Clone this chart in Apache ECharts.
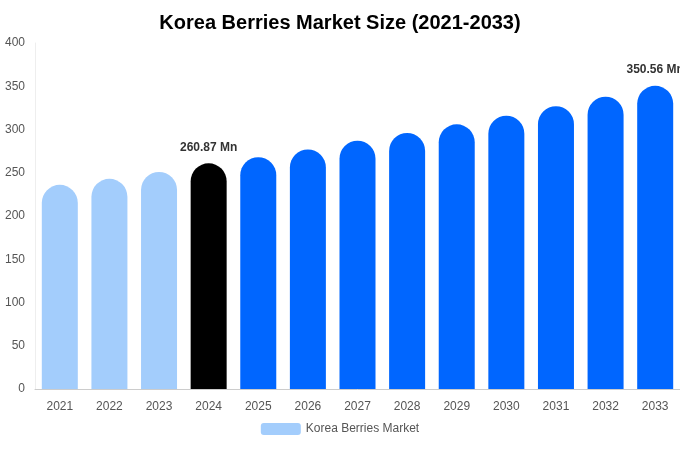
<!DOCTYPE html>
<html>
<head>
<meta charset="UTF-8">
<script src="https://cdn.jsdelivr.net/npm/echarts@6/dist/echarts.min.js"></script>
<style>
  *{margin:0;padding:0;}
  #main{width:680px;height:450px;}
</style>
</head>
<body>
<div id="main"></div>
<script>
var years = ['2021','2022','2023','2024','2025','2026','2027','2028','2029','2030','2031','2032','2033'];
var values = [236, 243, 251, 260.87, 268, 277, 287, 296, 306, 316, 327, 338, 350.56];
var yTicks = [0, 50, 100, 150, 200, 250, 300, 350, 400];

function barColor(i) {
    if (i < 3) return '#a3cdfc';
    if (i == 3) return '#000000';
    return '#0066ff';
}

var data = values.map(function (v, i) {
    var item = { value: v, itemStyle: { color: barColor(i) } };
    if (i == 3 || i == values.length - 1) {
        item.label = {
            show: true, position: 'top', distance: 10,
            formatter: v.toFixed(2) + ' Mn',
            fontWeight: 'bold', fontSize: 12, color: '#333'
        };
    }
    return item;
});

var myChart = echarts.init(document.getElementById('main'));
myChart.setOption({
    animation: false,
    title: {
        text: 'Korea Berries Market Size (2021-2033)',
        left: 'center', top: 8,
        textStyle: { fontSize: 20, fontWeight: 'bold', color: '#000', fontFamily: 'Liberation Sans' }
    },
    legend: {
        bottom: 10, itemWidth: 40, itemHeight: 12,
        data: [{ name: 'Korea Berries Market', itemStyle: { color: '#a3cdfc' } }],
        textStyle: { color: '#555', fontSize: 12 }
    },
    grid: { left: 35, right: 0, top: 43, bottom: 61, containLabel: false },
    xAxis: {
        type: 'category', data: years,
        axisTick: { show: false },
        axisLine: { lineStyle: { color: '#ccc' } },
        axisLabel: { color: '#555', fontSize: 12, margin: 12 }
    },
    yAxis: {
        type: 'value', min: yTicks[0], max: yTicks[yTicks.length - 1], interval: 50,
        axisLine: { show: true, lineStyle: { color: '#eee' } },
        splitLine: { show: false },
        axisLabel: { color: '#555', fontSize: 12, margin: 10 }
    },
    series: [{
        name: 'Korea Berries Market',
        type: 'bar', barWidth: 36,
        itemStyle: { borderRadius: [18, 18, 0, 0], color: '#a3cdfc' },
        data: data
    }]
});
</script>
</body>
</html>
